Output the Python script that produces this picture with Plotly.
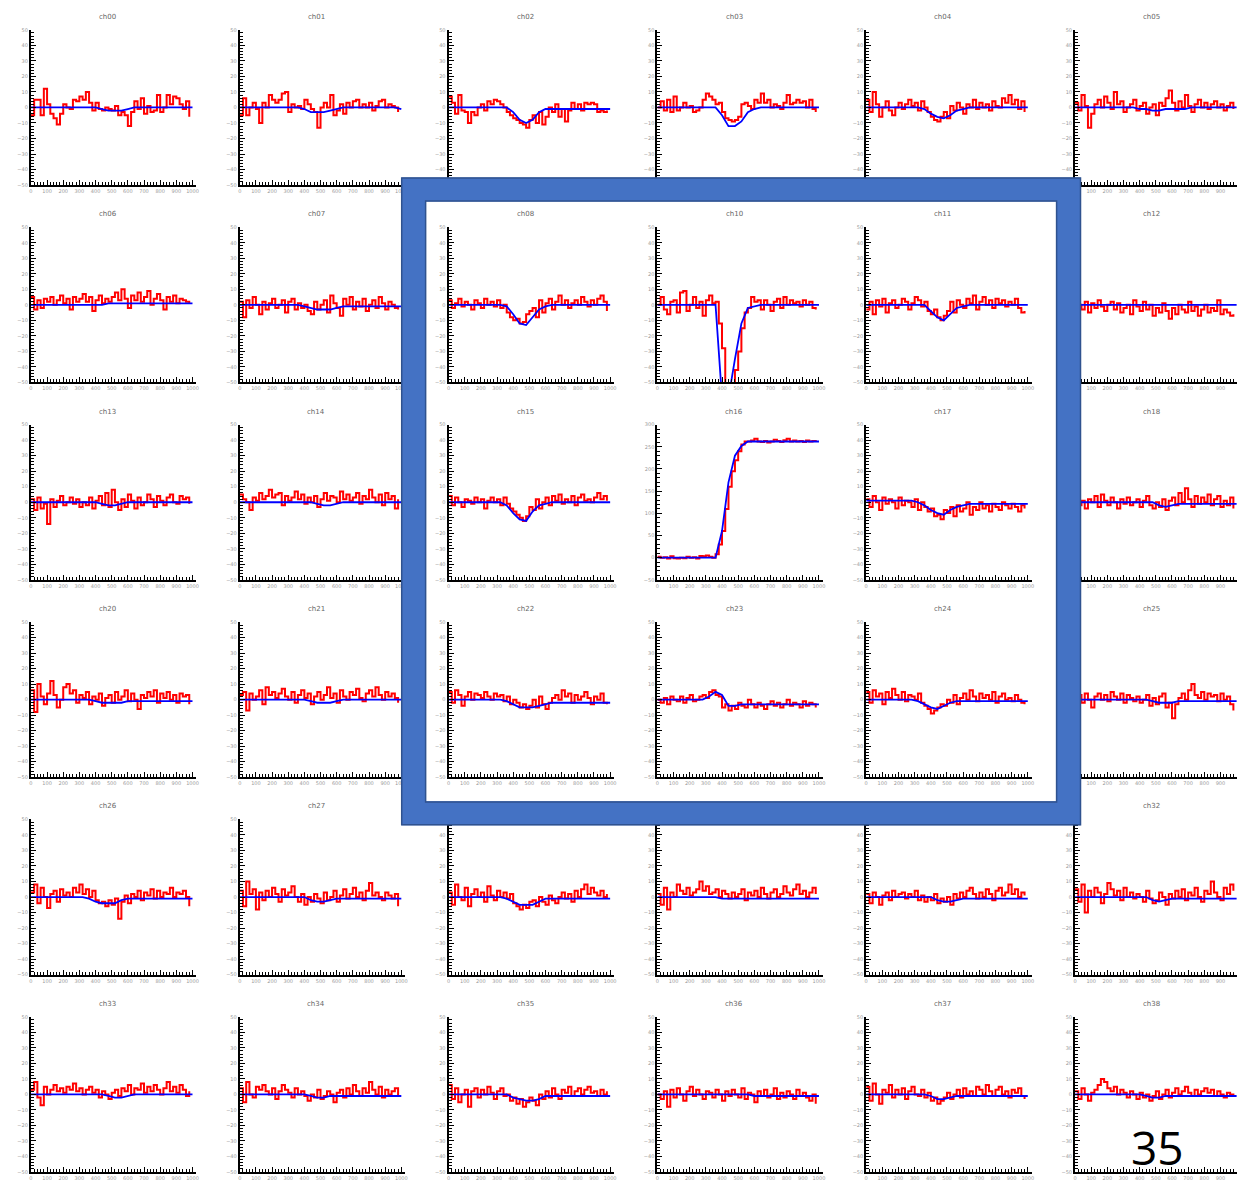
import plotly.graph_objects as go

# ---------------- data ----------------
# red traces: samples every 20 units from 0 to 980
red_x = list(range(0, 1000, 20))
# blue fits: knots every 40 units from 0 to 1000
blue_x = list(range(0, 1001, 40))

grid_titles = ["ch00", "ch01", "ch02", "ch03", "ch04", "ch05",
               "ch06", "ch07", "ch08", "ch10", "ch11", "ch12",
               "ch13", "ch14", "ch15", "ch16", "ch17", "ch18",
               "ch20", "ch21", "ch22", "ch23", "ch24", "ch25",
               "ch26", "ch27", "ch28", "ch29", "ch30", "ch32",
               "ch33", "ch34", "ch35", "ch36", "ch37", "ch38"]
hidden_titles = ["ch28", "ch29", "ch30"]

red_ch00 = [-5, 5, 5, -5, 12, 2, -4, -7, -11, -4, 2, 0, -1, 5, 4, 7, 5, 10, 3, -2, 3, -1, -2, 0, -1, -2, 1, -5, -3, -5, -12, -3, 4, -1, 6, -4, 1, -3, -2, 8, -3, 0, 8, 2, 7, 6, 2, -1, 4, -6]
red_ch01 = [-5, 6, -5, 0, 3, -1, -10, 3, 0, 8, 5, 3, 5, 9, 10, -3, 2, 0, 1, -1, 5, 2, -1, -3, -13, 0, 3, 0, 8, -5, -2, 2, -4, 3, 0, 4, 5, 0, 2, 0, 3, -2, 1, 4, 5, 0, 2, 1, 0, -3]
red_ch02 = [7, 3, -4, 8, -2, -3, -10, -3, -5, 0, 2, -2, 4, 2, 5, 4, 2, 0, -3, -5, -7, -8, -10, -11, -13, -8, -5, -10, -3, -11, -6, 0, -3, 2, -6, -1, -9, -2, 3, -1, 2, -2, 3, 2, 3, 2, -3, -2, -3, -2]
red_ch03 = [0, 4, -2, 5, -3, 7, -2, 0, 3, 0, 1, -3, -2, 0, 5, 9, 7, 5, 2, 3, -3, -7, -8, -9, -8, -6, 2, 3, 1, -1, 5, 3, 9, 3, 5, 0, 2, 1, -1, 3, 8, 2, 3, 5, 3, 4, 0, 5, -1, -3]
red_ch04 = [5, -3, 10, 2, -6, 0, 4, -2, -5, 0, 3, -1, 2, 5, 1, 3, -2, 4, 0, -3, -6, -8, -9, -6, -3, -7, 1, -2, 3, 0, -4, 2, 0, 5, -1, 3, 0, 2, -2, 4, 1, 0, 6, 3, 8, 2, 5, -1, 4, -3]
red_ch05 = [3, -2, 8, 1, -13, -4, 2, 5, 0, 7, 3, -1, 10, 2, 4, -3, 0, 2, 5, -2, 1, 3, -4, 0, 2, -5, 3, 1, 6, 11, 3, -2, 4, 0, 8, 1, -3, 2, 5, 0, 3, -1, 2, 4, 0, 2, -2, 1, 3, -1]
red_ch06 = [5, -3, 3, -2, 4, 2, 5, 0, 3, 6, 1, 4, -3, 5, 2, 4, 7, 2, 5, -4, 3, 6, 1, 4, 2, 5, 8, 3, 10, 4, -2, 6, 3, 8, 2, 5, 9, 0, 4, 7, 3, -3, 5, 2, 6, 1, 4, 3, 2, 1]
red_ch07 = [2, -8, 3, -2, 5, 0, -6, 2, -3, 1, 4, -2, 0, 3, -5, 2, 4, -3, 1, -2, 0, -4, -6, 2, -3, 0, 3, -5, 6, 1, -2, -7, 4, 0, 5, -3, 2, -1, 4, -4, 0, 3, -2, 5, 1, -3, 2, 0, -2, -3]
red_ch08 = [3, -2, 1, 4, -1, 2, 0, -3, 3, 1, -2, 4, 0, 2, -1, 3, -2, 0, -5, -8, -10, -9, -12, -11, -6, -4, -2, -8, 3, -5, 1, 4, -3, 2, 6, 0, 3, -2, 1, 3, 0, 5, 2, -1, 3, 0, 4, 6, 2, -4]
red_ch10 = [0, 5, -3, -6, 2, 3, -5, 8, 9, -4, 0, 5, -2, 2, -7, 3, 6, 1, 2, -12, -28, -60, -60, -60, -42, -30, -15, -5, -2, 5, 2, 3, -3, 3, 0, -4, 2, 4, -2, 5, 0, 3, 1, 2, -1, 3, 0, 2, -2, -3]
red_ch11 = [-3, 2, -6, 3, -1, 4, -5, 1, 3, -2, 0, 4, 2, -3, 1, 5, 3, -1, 2, -4, -6, -3, -8, -10, -7, -4, 2, -5, 3, 0, -2, 4, 1, 6, -3, 2, 5, 0, 3, -2, 4, 1, 3, -1, 2, 0, 4, -2, -5, -4]
red_ch12 = [4, 0, -3, 2, -5, 1, -2, 3, -1, -4, 0, 2, -3, 1, -5, -2, 0, -6, 3, -1, -4, 2, -3, 0, -7, -2, -5, 1, -4, -9, -2, -6, 0, -3, -5, 2, -4, -1, -7, -3, 0, -5, -2, -4, 3, -6, -3, -5, -7, -6]
red_ch13 = [2, -5, 3, -4, -1, -14, 2, -3, 1, 4, -2, 0, 3, -1, 2, -3, 0, -2, 3, -4, 1, 4, -2, 6, -3, 8, 0, -5, 2, -3, 5, 1, -4, 3, -2, 0, 5, 2, -3, 4, 1, -2, 3, 5, 0, -1, 4, 2, 3, -1]
red_ch14 = [5, 2, 0, -5, 3, 1, 6, 2, 4, 8, 3, 5, 6, -2, 4, 1, 3, 7, 2, 5, -1, 3, 0, 4, -3, 2, 6, 1, 4, 3, 0, 7, 2, 5, 1, 3, 6, -1, 4, 2, 8, 3, 0, 5, -2, 6, 2, 4, -4, 2]
red_ch15 = [4, -2, 3, 0, -3, 2, 1, -1, 3, 0, 2, -4, 1, 3, 0, 2, -2, 3, -1, -4, -6, -8, -10, -12, -9, -3, -5, 2, -4, 0, 3, -2, 4, 1, 5, -1, 2, 0, 4, -2, 3, 5, 1, 2, 0, 3, 6, 2, 4, 1]
red_ch16 = [2, 0, 1, -2, 3, -1, -2, 0, -1, 2, 0, 1, -2, 4, 3, 5, 2, 0, 8, 30, 60, 110, 160, 195, 220, 240, 255, 262, 262, 264, 268, 262, 261, 263, 260, 262, 266, 263, 261, 265, 268, 262, 264, 262, 263, 261, 264, 262, 263, 261]
red_ch17 = [2, -3, 4, 0, -5, 3, -1, 2, 0, -4, 3, -2, 1, 0, -3, 2, -5, 0, -3, -6, -4, -9, -8, -11, -5, -7, -3, -9, -2, -6, -4, 0, -8, -3, -5, 0, -4, -2, -6, -1, -3, -5, 0, -2, -4, -1, -3, -6, -2, -4]
red_ch18 = [3, -2, 1, -4, 2, 0, 4, -3, 5, 1, -2, 3, 0, -4, 2, -1, 3, -2, 0, 2, -3, 1, 4, -2, -4, 0, -3, 2, -5, 1, 3, -2, 6, 0, 9, 2, -3, 4, -1, 3, 0, 5, -2, 2, 4, -3, 1, -2, 3, -4]
red_ch20 = [6, -8, 10, 2, -3, 4, 12, 3, -5, 0, 8, 10, 4, 6, -2, 3, 1, 5, -3, 2, 0, 4, -4, 1, 3, -2, 5, 0, 2, 6, -1, 4, 0, -6, 3, 1, 5, 2, 6, -2, 4, 1, 5, 0, 3, -2, 4, 2, 3, -3]
red_ch21 = [3, 5, -7, 4, 0, 2, 6, -3, 8, 3, 5, 1, 4, 7, 2, 0, 5, -2, 3, 6, 1, 4, -3, 2, 5, 0, 3, 8, 1, 4, -2, 6, 2, 0, 5, 3, 7, 1, -1, 4, 6, 2, 8, 3, 0, 5, 2, 4, 1, -2]
red_ch22 = [5, -2, 6, 3, -4, 2, 5, 0, 4, 3, 1, 5, 2, 0, 4, 2, 3, -1, 2, -3, 0, -2, -5, -3, -6, -4, 0, -5, 2, -3, -6, -2, 1, 3, 0, 6, 2, 4, -2, 3, 0, 2, 5, 1, -3, 2, 0, 4, -2, -3]
red_ch23 = [0, -2, 1, -3, 2, 0, -1, 2, -2, 1, 3, -1, 0, 2, 3, 1, 5, 6, 3, 2, -5, -3, -7, -4, -6, -2, -4, -5, 0, -3, -5, -2, -4, -6, -3, -1, -4, -2, -5, -3, 0, -4, -2, -3, -5, -1, -4, -2, -3, -5]
red_ch24 = [5, -2, 6, 2, 4, -3, 5, 1, 7, 3, 0, 5, -1, 3, 2, 0, 4, -2, -4, -6, -9, -7, -5, -3, -4, 0, -2, 3, -3, 1, 4, 0, 6, 2, -1, 4, 1, 3, 0, 5, -2, 2, 4, 0, 1, -1, 3, 0, -2, -3]
red_ch25 = [6, 3, -2, 4, 0, -5, 2, 4, 0, 3, -1, 5, 2, 0, 4, -2, 3, 1, -1, 2, -2, 0, 3, -4, 1, -3, 2, 4, -5, -2, -12, -3, 1, 4, 0, 6, 10, 3, 1, 5, 0, 4, 2, 3, -1, 4, 0, 2, -3, -7]
red_ch26 = [3, 8, -4, 6, 0, -7, 2, 4, -3, 5, 1, 3, 0, 6, 3, 8, 2, 5, 0, 4, -2, -4, -3, -6, -2, -5, -1, -14, -3, 1, -4, 2, 0, 4, -2, 3, 1, 5, -1, 4, 0, 3, 2, 6, 0, 3, 2, 4, 0, -6]
red_ch27 = [4, -6, 10, 2, 5, -8, 3, -2, 4, 0, 6, 2, -3, 5, 1, 3, 7, 0, -3, 2, -5, 0, -3, 2, -1, -4, 3, -2, 0, 4, -3, 1, 5, -1, 2, 6, 0, 3, -2, 4, 9, 1, 3, 0, -2, 3, 1, -1, 2, -6]
red_ch28 = [3, -5, 8, 0, -2, 6, -6, 2, 5, 0, 3, -3, 7, 1, -2, 4, 0, 3, -1, 2, -4, -6, -8, -5, -7, -3, -2, -6, 0, -3, -5, 1, -2, -4, 0, 3, -1, 2, -3, 4, 0, 5, 8, 2, 6, 3, 1, 4, 0, 2]
red_ch29 = [2, -5, 6, -8, 3, 0, 8, 4, 2, 6, 1, 3, 5, 10, 4, 7, 2, 3, 5, 0, 4, 2, -1, 3, 0, 2, 5, -2, 3, 1, 4, 0, 6, 2, -1, 3, 5, 0, 2, 7, 3, 1, 5, 8, 2, 4, 0, 3, 6, 2]
red_ch30 = [2, -4, 3, 0, -5, 1, 3, -2, 4, 0, 2, 3, -1, 2, 0, 4, -2, 1, -3, 0, -2, 2, -4, -1, -3, 0, -5, 2, -1, 3, 0, 4, 6, 2, -1, 3, 0, 5, 2, -2, 4, 6, 1, 3, 8, 2, 5, 0, 3, 1]
red_ch32 = [5, -3, 8, -10, 4, 0, 6, 3, -4, 2, 9, 5, 1, 4, -2, 6, 0, 3, -1, 2, 0, -3, 4, -1, -4, -2, 3, 0, -5, 2, -1, 4, 0, 5, -2, 3, 1, 6, 0, -3, 4, 2, 10, 3, 0, -2, 6, 2, 8, 4]
red_ch33 = [3, 8, -2, -7, 5, 0, 3, 6, 2, 4, 1, 5, 3, 7, 2, 4, 0, 3, 5, 1, 3, -2, 2, 0, -3, 1, 3, -1, 4, 2, 6, 0, 4, 3, 7, 1, 5, 2, 6, 3, 0, 4, 8, 2, 5, 1, 6, 3, -1, 2]
red_ch34 = [4, -5, 8, 0, -2, 5, 3, 6, 2, 0, 4, -3, 2, 6, 3, 1, -2, 4, 0, 2, -1, -4, 0, -2, 3, -3, -1, 2, 0, -5, 1, 3, -2, 4, 0, 6, 2, -1, 4, 1, 8, 3, 0, 5, -2, 3, 0, 2, 4, -1]
red_ch35 = [6, -3, 4, -5, 0, 3, -8, 2, 4, -2, 3, 0, 5, 1, -3, 2, 4, -1, 0, -4, -2, -6, -3, -8, -5, -2, -4, -7, 0, -3, 2, -2, 4, 0, -3, 3, 1, 5, -1, 2, 4, 0, 3, 5, 1, 2, -1, 3, 0, 2]
red_ch36 = [0, -3, 2, -8, 3, -2, 4, 0, -4, 2, 5, -1, 3, 0, -3, 2, 1, -2, 3, 0, -4, 2, -1, 3, 0, -2, 4, -3, 1, 0, -5, 2, -1, 3, -2, 0, 4, -3, 1, -2, 2, 0, -3, 3, -1, 1, -2, -4, 0, -6]
red_ch37 = [5, -4, 7, 0, -6, 3, 1, 6, -2, 3, 0, 4, -3, 2, 5, 0, -1, 3, -2, 1, -4, -2, -6, -4, -2, 1, -3, 0, 3, -2, 4, 0, 2, -1, 5, 3, 0, 6, 2, -1, 3, 5, 0, 2, -2, 3, 1, 4, -1, -3]
red_ch38 = [2, -3, 4, 0, -4, 1, 3, 6, 10, 8, 4, 2, 5, 0, 3, 1, -2, 2, 0, -3, 1, -2, 0, -4, -1, 2, -3, 0, 3, -2, 1, 4, 0, 2, 5, 1, -1, 3, 0, 2, 4, 1, 3, -1, 2, 0, -2, 1, 0, -1]

blue_ch00 = [0, 0, 0, 0, 0, 0, 0, 0, 0, 0, 0, -1, -2, -2, -2, -1, 0, 0, 0, 0, 0, 0, 0, 0, 0, 0]
blue_ch01 = [0, 0, 0, 0, 0, 0, 0, 0, 0, 0, -1, -3, -3, -3, -2, -1, 0, 0, 0, 0, 0, 0, 0, 0, 0, -1]
blue_ch02 = [0, 0, 0, 0, 0, 0, 0, 0, 0, 0, -3, -8, -10, -8, -3, -1, -1, -1, -1, -1, -1, -1, -1, -1, -1, -1]
blue_ch03 = [0, 0, 0, 0, 0, 0, 0, 0, 0, 0, -5, -12, -12, -9, -3, -1, 0, 0, 0, 0, 0, 0, 0, 0, 0, 0]
blue_ch04 = [0, 0, 0, 0, 0, 0, 0, 0, 0, -1, -4, -6, -7, -5, -2, -1, 0, 0, 0, 0, 0, 0, 0, 0, 0, 0]
blue_ch05 = [0, 0, 0, 0, 0, 0, 0, 0, 0, 0, -1, -1, -2, -2, -1, -1, -1, -1, 0, 0, 0, 0, 0, 0, 0, 0]
blue_ch06 = [0, 0, 0, 0, 0, 0, 0, 0, 0, 0, 0, 0, 1, 1, 1, 1, 1, 1, 1, 1, 1, 1, 1, 1, 1, 1]
blue_ch07 = [0, 0, 0, 0, 0, 0, 0, 0, 0, 0, -1, -2, -3, -3, -3, -2, -1, -1, -1, -1, -1, -1, -1, -1, -1, -1]
blue_ch08 = [0, 0, 0, 0, 0, 0, 0, 0, 0, -1, -6, -12, -13, -8, -3, -1, 0, 0, 0, 0, 0, 0, 0, 0, 0, 0]
blue_ch10 = [0, 0, 0, 0, 0, 0, 0, 0, 0, 0, -60, -60, -35, -12, -2, -1, 0, 0, 0, 0, 0, 0, 0, 0, 0, 0]
blue_ch11 = [0, 0, 0, 0, 0, 0, 0, 0, 0, 0, -4, -8, -10, -6, -2, -1, 0, 0, 0, 0, 0, 0, 0, 0, 0, 0]
blue_ch12 = [0, 0, 0, 0, 0, 0, 0, 0, 0, 0, 0, 0, 0, 0, 0, 0, 0, 0, 0, 0, 0, 0, 0, 0, 0, 0]
blue_ch13 = [0, 0, 0, 0, 0, 0, 0, 0, 0, 0, 0, -1, -2, -2, -1, 0, 0, 0, 0, 0, 0, 0, 0, 0, 0, 0]
blue_ch14 = [0, 0, 0, 0, 0, 0, 0, 0, 0, 0, 0, 0, -1, -2, -2, -1, 0, 0, 0, 0, 0, 0, 0, 0, 0, 0]
blue_ch15 = [0, 0, 0, 0, 0, 0, 0, 0, 0, -2, -7, -11, -12, -6, -2, -1, 0, 0, 0, 0, 0, 0, 0, 0, 0, 0]
blue_ch16 = [0, 0, 0, 0, 0, 0, 0, 0, 0, 0, 60, 170, 230, 252, 262, 262, 262, 262, 262, 262, 262, 262, 262, 262, 262, 262]
blue_ch17 = [1, 1, 1, 1, 1, 1, 1, 1, 0, -2, -5, -7, -8, -5, -3, -2, -1, -1, -1, -1, -1, -1, -1, -1, -1, -1]
blue_ch18 = [0, 0, 0, 0, 0, 0, 0, 0, 0, 0, 0, 0, 0, -2, -3, -2, -1, -1, -1, -1, -1, -1, -1, -1, -1, -1]
blue_ch20 = [0, 0, 0, 0, 0, 0, 0, 0, 0, 0, -1, -2, -2, -2, -2, -1, -1, -1, -1, -1, -1, -1, -1, -1, -1, -1]
blue_ch21 = [0, 0, 0, 0, 0, 0, 0, 0, 0, 0, 0, -1, -2, -2, -2, -1, 0, 0, 0, 0, 0, 0, 0, 0, 0, 0]
blue_ch22 = [0, 0, 0, 0, 0, 0, 0, 0, 0, -1, -3, -5, -5, -5, -4, -3, -2, -2, -2, -2, -2, -2, -2, -2, -2, -2]
blue_ch23 = [0, 0, 0, 0, 0, 0, 0, 0, 2, 5, 3, -4, -4, -3, -3, -3, -3, -3, -3, -3, -3, -3, -3, -3, -3, -3]
blue_ch24 = [0, 0, 0, 0, 0, 0, 0, 0, -1, -3, -5, -6, -4, -2, -1, -1, -1, -1, -1, -1, -1, -1, -1, -1, -1, -1]
blue_ch25 = [0, 0, 0, 0, 0, 0, 0, 0, 0, 0, 0, 0, -1, -2, -2, -2, -1, -1, -1, -1, -1, -1, -1, -1, -1, -1]
blue_ch26 = [0, 0, 0, 0, 0, 0, 0, 0, 0, -1, -3, -4, -4, -4, -2, -1, -1, -1, -1, -1, -1, -1, -1, -1, -1, -1]
blue_ch27 = [0, 0, 0, 0, 0, 0, 0, 0, 0, 0, 0, -2, -3, -3, -2, -1, -1, -1, -1, -1, -1, -1, -1, -1, -1, -1]
blue_ch28 = [0, 0, 0, 0, 0, 0, 0, 0, 0, -1, -3, -5, -5, -5, -3, -1, -1, -1, -1, -1, -1, -1, -1, -1, -1, -1]
blue_ch29 = [0, 0, 0, 0, 0, 0, 0, 0, 0, 0, -1, -1, -1, -1, -1, -1, -1, -1, -1, -1, -1, -1, -1, -1, -1, -1]
blue_ch30 = [0, 0, 0, 0, 0, 0, 0, 0, 0, 0, 0, -2, -3, -3, -2, -1, -1, -1, -1, -1, -1, -1, -1, -1, -1, -1]
blue_ch32 = [0, 0, 0, 0, 0, 0, 0, 0, 0, 0, 0, 0, -2, -3, -2, -1, -1, -1, -1, -1, -1, -1, -1, -1, -1, -1]
blue_ch33 = [0, 0, 0, 0, 0, 0, 0, 0, 0, 0, 0, 0, -1, -2, -2, -1, 0, 0, 0, 0, 0, 0, 0, 0, 0, 0]
blue_ch34 = [0, 0, 0, 0, 0, 0, 0, 0, 0, 0, 0, -1, -2, -2, -1, -1, -1, -1, -1, -1, -1, -1, -1, -1, -1, -1]
blue_ch35 = [0, 0, 0, 0, 0, 0, 0, 0, 0, 0, -2, -3, -4, -4, -3, -1, -1, -1, -1, -1, -1, -1, -1, -1, -1, -1]
blue_ch36 = [0, 0, 0, 0, 0, 0, 0, 0, 0, 0, 0, 0, 0, 0, 0, -1, -1, -1, -1, -1, -1, -1, -1, -1, -1, -1]
blue_ch37 = [0, 0, 0, 0, 0, 0, 0, 0, 0, 0, -1, -3, -3, -2, -1, -1, -1, -1, -1, -1, -1, -1, -1, -1, -1, -1]
blue_ch38 = [0, 0, 0, 0, 0, 0, 0, 0, 0, 0, 0, -1, -2, -2, -1, -1, -1, -1, -1, -1, -1, -1, -1, -1, -1, -1]

page_number = "35"

red_data = {n: globals()["red_" + n] for n in grid_titles}
blue_data = {n: globals()["blue_" + n] for n in grid_titles}
big_range_channels = {"ch16": ([-50, 300], 50, 10)}

# ---------------- layout ----------------
W, H = 1240, 1181
col_x0 = 29
col_step = 209.5
plot_w = 166
row_y0 = 27
row_step = 198.4
plot_h = 156

fig = go.Figure()
layout = dict(
    width=W, height=H, autosize=False,
    margin=dict(l=0, r=0, t=0, b=0),
    paper_bgcolor="white", plot_bgcolor="white",
    showlegend=False,
    annotations=[], shapes=[],
)

tick_font = dict(size=5, color="#9a9a9a", family="DejaVu Sans")

for i, name in enumerate(grid_titles):
    r, c = divmod(i, 6)
    k = i + 1
    xa = "x" if k == 1 else f"x{k}"
    ya = "y" if k == 1 else f"y{k}"
    left = col_x0 + c * col_step
    top = row_y0 + r * row_step
    right = min(left + plot_w, W - 1)
    xd = [left / W, right / W]
    yd = [1 - (top + plot_h) / H, 1 - top / H]
    yr, ydt, ymn = big_range_channels.get(name, ([-50, 50], 10, 2))
    xmax = 1024 * (right - left) / plot_w

    fig.add_trace(go.Scatter(x=red_x, y=red_data[name], mode="lines",
                             line=dict(color="#ff0000", width=2, shape="hv"),
                             xaxis=xa, yaxis=ya, hoverinfo="skip"))
    fig.add_trace(go.Scatter(x=blue_x, y=blue_data[name], mode="lines",
                             line=dict(color="#0000ff", width=1.8),
                             xaxis=xa, yaxis=ya, hoverinfo="skip"))

    layout["xaxis" if k == 1 else f"xaxis{k}"] = dict(
        domain=xd, anchor=ya, range=[0, xmax],
        showline=True, linecolor="black", linewidth=2,
        ticks="inside", ticklen=5, tickwidth=1.3, tickcolor="black",
        tick0=0, dtick=100, tickfont=tick_font,
        minor=dict(ticks="inside", ticklen=3, dtick=20, tickcolor="black", tickwidth=1),
        showgrid=False, zeroline=False, fixedrange=True,
    )
    layout["yaxis" if k == 1 else f"yaxis{k}"] = dict(
        domain=yd, anchor=xa, range=yr,
        showline=True, linecolor="black", linewidth=2,
        ticks="inside", ticklen=5, tickwidth=1.3, tickcolor="black",
        tick0=0, dtick=ydt, tickfont=tick_font,
        minor=dict(ticks="inside", ticklen=3, dtick=ymn, tickcolor="black", tickwidth=1),
        showgrid=False, zeroline=False, fixedrange=True,
    )
    if name not in hidden_titles:
        layout["annotations"].append(dict(
            text=name, xref="paper", yref="paper",
            x=(left + plot_w / 2 - 6) / W, y=1 - (top - 13) / H,
            showarrow=False, font=dict(size=7, color="#666666", family="DejaVu Sans"),
            xanchor="center", yanchor="middle"))

# blue frame around the centre block
def px_rect(x0, y0, x1, y1):
    return dict(x0=x0 / W, x1=x1 / W, y0=1 - y1 / H, y1=1 - y0 / H)

layout["shapes"].append(dict(type="rect", xref="paper", yref="paper", layer="above",
                             line=dict(color="#4472C4", width=24), fillcolor="rgba(0,0,0,0)",
                             **px_rect(413, 187.5, 1070, 814.5)))
layout["shapes"].append(dict(type="rect", xref="paper", yref="paper", layer="above",
                             line=dict(color="#2F528F", width=1.5), fillcolor="rgba(0,0,0,0)",
                             **px_rect(401, 176, 1082, 826)))
layout["shapes"].append(dict(type="rect", xref="paper", yref="paper", layer="above",
                             line=dict(color="#2F528F", width=1.5), fillcolor="rgba(0,0,0,0)",
                             **px_rect(425, 199, 1058, 803)))

layout["annotations"].append(dict(
    text=page_number, xref="paper", yref="paper",
    x=1159 / W, y=1 - 1150 / H, showarrow=False,
    font=dict(size=46, color="black", family="Open Sans"),
    xanchor="center", yanchor="middle"))

fig.update_layout(**layout)
fig.write_html("out.html")
